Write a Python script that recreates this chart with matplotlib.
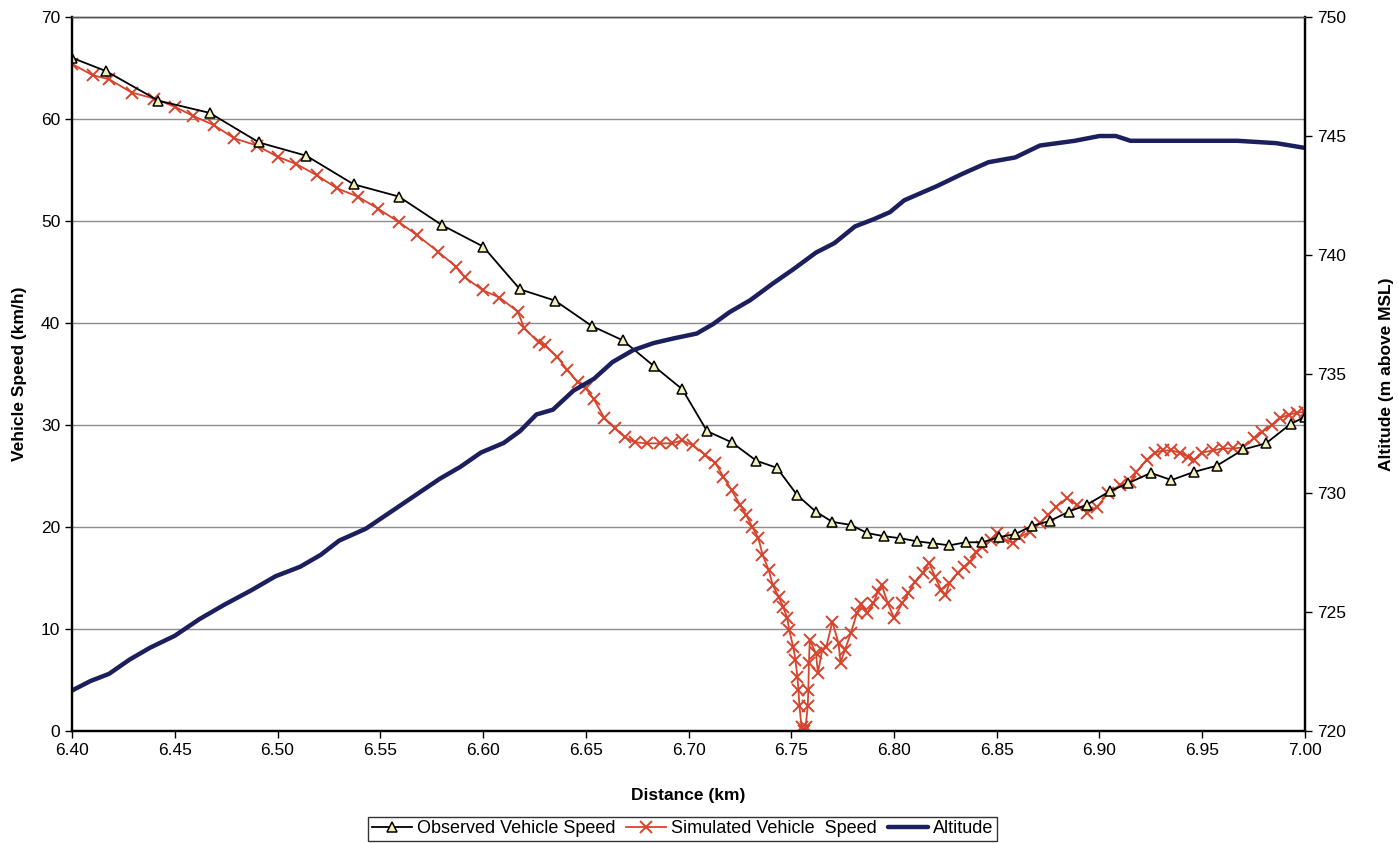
import matplotlib
matplotlib.use("Agg")
import matplotlib.pyplot as plt
from matplotlib.ticker import MultipleLocator, FormatStrFormatter

plt.rcParams['font.family'] = ['Liberation Sans', 'DejaVu Sans']

# observed vehicle speed (km/h) vs distance (km)
obs_x = [6.400, 6.4165, 6.442, 6.467, 6.491, 6.514, 6.537, 6.559, 6.580, 6.600,
         6.618, 6.635, 6.653, 6.668, 6.683, 6.697, 6.709, 6.721, 6.733, 6.743,
         6.753, 6.762, 6.770, 6.779, 6.787, 6.795, 6.803, 6.811, 6.819, 6.827,
         6.835, 6.843, 6.851, 6.859, 6.867, 6.876, 6.885, 6.894, 6.905, 6.914,
         6.925, 6.935, 6.946, 6.957, 6.970, 6.981, 6.993, 7.000]
obs_v = [66.0, 64.7, 61.8, 60.6, 57.7, 56.4, 53.6, 52.4, 49.6, 47.5,
         43.3, 42.2, 39.7, 38.3, 35.8, 33.5, 29.4, 28.3, 26.5, 25.8,
         23.1, 21.5, 20.5, 20.2, 19.4, 19.1, 18.9, 18.6, 18.4, 18.2,
         18.5, 18.5, 19.0, 19.3, 20.1, 20.6, 21.5, 22.2, 23.5, 24.3,
         25.3, 24.6, 25.4, 26.0, 27.6, 28.2, 30.1, 30.8]

# simulated vehicle speed (km/h)
sim_x = [6.400, 6.410, 6.418, 6.429, 6.440, 6.450, 6.459, 6.469, 6.479, 6.490,
         6.500, 6.509, 6.519, 6.529, 6.539, 6.549, 6.559, 6.568, 6.578, 6.587,
         6.591, 6.600, 6.608, 6.617, 6.620, 6.627, 6.630, 6.636, 6.641, 6.646,
         6.650, 6.654, 6.659, 6.664, 6.669, 6.674, 6.680, 6.686, 6.692, 6.697,
         6.702, 6.708, 6.713, 6.717, 6.721, 6.725, 6.728, 6.731, 6.734, 6.736,
         6.739, 6.741, 6.744, 6.746, 6.748, 6.749, 6.751, 6.752, 6.753, 6.7535,
         6.754, 6.755, 6.756, 6.757, 6.758, 6.7583, 6.7586, 6.759, 6.762, 6.763,
         6.765, 6.767, 6.770, 6.773, 6.774, 6.776, 6.779, 6.782, 6.784, 6.787,
         6.790, 6.792, 6.794, 6.797, 6.800, 6.804, 6.807, 6.810, 6.814, 6.817,
         6.820, 6.823, 6.825, 6.827, 6.831, 6.834, 6.837, 6.840, 6.843, 6.847,
         6.850, 6.853, 6.858, 6.861, 6.866, 6.871, 6.875, 6.879, 6.884, 6.889,
         6.894, 6.899, 6.904, 6.910, 6.915, 6.918, 6.923, 6.927, 6.931, 6.935,
         6.939, 6.943, 6.946, 6.950, 6.955, 6.960, 6.965, 6.970, 6.975, 6.979,
         6.984, 6.988, 6.992, 6.996, 7.000]
sim_v = [65.4, 64.3, 63.9, 62.6, 62.0, 61.2, 60.3, 59.4, 58.1, 57.4,
         56.3, 55.6, 54.5, 53.2, 52.4, 51.2, 49.9, 48.6, 47.0, 45.5,
         44.5, 43.2, 42.5, 41.1, 39.5, 38.1, 37.8, 36.7, 35.4, 34.2,
         33.6, 32.5, 30.7, 29.7, 28.8, 28.3, 28.2, 28.2, 28.2, 28.5,
         28.0, 27.1, 26.3, 24.9, 23.6, 22.2, 21.2, 20.0, 18.9, 17.3,
         15.8, 14.3, 13.1, 12.2, 11.1, 9.9, 8.2, 7.0, 5.3, 4.0,
         2.4, 0.4, 0.0, 0.4, 2.4, 4.0, 6.7, 8.9, 7.6, 5.7,
         7.9, 8.2, 10.7, 8.6, 6.7, 7.9, 9.6, 11.6, 12.4, 11.6,
         12.5, 13.6, 14.3, 12.5, 11.1, 12.5, 13.5, 14.6, 15.5, 16.5,
         15.1, 13.8, 13.3, 14.5, 15.5, 16.1, 16.6, 17.5, 18.0, 18.7,
         19.4, 18.9, 18.4, 19.0, 19.5, 20.4, 21.2, 22.0, 22.8, 22.2,
         21.4, 22.0, 23.3, 24.1, 24.4, 25.4, 26.6, 27.3, 27.5, 27.5,
         27.3, 26.9, 26.6, 27.3, 27.5, 27.7, 27.7, 27.8, 28.7, 29.3,
         30.0, 30.7, 31.0, 31.2, 31.3]

# altitude (m above MSL)
alt_x = [6.400, 6.409, 6.418, 6.428, 6.438, 6.450, 6.462, 6.474, 6.487, 6.499,
         6.511, 6.521, 6.530, 6.543, 6.555, 6.567, 6.579, 6.589, 6.599, 6.610,
         6.618, 6.626, 6.634, 6.644, 6.654, 6.663, 6.673, 6.683, 6.693, 6.704,
         6.712, 6.720, 6.730, 6.741, 6.751, 6.762, 6.771, 6.781, 6.790, 6.798,
         6.805, 6.813, 6.821, 6.833, 6.846, 6.859, 6.871, 6.888, 6.900, 6.908,
         6.915, 6.930, 6.944, 6.967, 6.986, 7.000]
alt_h = [721.7, 722.1, 722.4, 723.0, 723.5, 724.0, 724.7, 725.3, 725.9, 726.5,
         726.9, 727.4, 728.0, 728.5, 729.2, 729.9, 730.6, 731.1, 731.7, 732.1,
         732.6, 733.3, 733.5, 734.3, 734.8, 735.5, 736.0, 736.3, 736.5, 736.7,
         737.1, 737.6, 738.1, 738.8, 739.4, 740.1, 740.5, 741.2, 741.5, 741.8,
         742.3, 742.6, 742.9, 743.4, 743.9, 744.1, 744.6, 744.8, 745.0, 745.0,
         744.8, 744.8, 744.8, 744.8, 744.7, 744.5]

x_ticks = [6.40, 6.45, 6.50, 6.55, 6.60, 6.65, 6.70, 6.75, 6.80, 6.85, 6.90, 6.95, 7.00]

fig = plt.figure(figsize=(13.99, 8.43), dpi=100)
ax = fig.add_axes([0.0515, 0.1329, 0.8813, 0.8469])
ax2 = ax.twinx()

l1, = ax.plot(obs_x, obs_v, color='black', lw=1.3, marker='^', ms=7,
              mfc='#f2f2b8', mec='black', mew=1.1, zorder=3,
              label='Observed Vehicle Speed')
l2, = ax.plot(sim_x, sim_v, color='#d8432c', lw=1.3, marker='x', ms=8,
              mew=1.4, zorder=2, label='Simulated Vehicle  Speed')
l3, = ax2.plot(alt_x, alt_h, color='#1b1f5e', lw=3.2, solid_capstyle='round',
               solid_joinstyle='round', label='Altitude')

ax.set_xlim(6.40, 7.00)
ax.set_ylim(0, 70)
ax2.set_ylim(720, 750)
ax.set_xticks(x_ticks)
ax.xaxis.set_major_formatter(FormatStrFormatter('%.2f'))
ax.yaxis.set_major_locator(MultipleLocator(10))
ax2.yaxis.set_major_locator(MultipleLocator(5))

ax.grid(axis='y', color='#8c8c8c', lw=1.0)
ax.set_axisbelow(True)

for a in (ax, ax2):
    a.tick_params(labelsize=12.5, direction='out', length=5, width=1)
    for s in a.spines.values():
        s.set_linewidth(1.6)
    a.spines['top'].set_color('#555555')
    a.spines['top'].set_linewidth(1.0)

ax.set_xlabel('Distance (km)', fontsize=12.5, fontweight='bold', labelpad=22)
ax.set_ylabel('Vehicle Speed (km/h)', fontsize=12.5, fontweight='bold', labelpad=10)
ax2.set_ylabel('Altitude (m above MSL)', fontsize=12.5, fontweight='bold',
               labelpad=24)

leg = fig.legend(handles=[l1, l2, l3], loc='center', bbox_to_anchor=(0.488, 0.0170),
                 ncol=3, frameon=True, fontsize=13, fancybox=False,
                 handlelength=2.2, handletextpad=0.3, columnspacing=0.6,
                 borderpad=0.2)
leg.get_frame().set_edgecolor('black')
leg.get_frame().set_linewidth(1.0)

fig.savefig('out.png', dpi=100)
